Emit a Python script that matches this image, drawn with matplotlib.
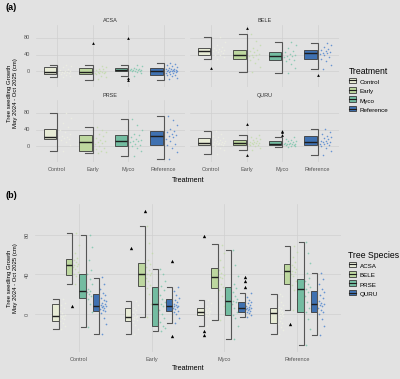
import matplotlib
matplotlib.use("Agg")
import matplotlib.pyplot as plt
import numpy as np
from matplotlib.legend_handler import HandlerBase
from matplotlib.patches import Rectangle, Patch
from matplotlib.lines import Line2D

plt.rcParams["font.family"] = ["Liberation Sans", "DejaVu Sans"]

treatments = ["Control", "Early", "Myco", "Reference"]
species = ["ACSA", "BELE", "PRSE", "QURU"]
colours = ["#e7ebd5", "#bdd79f", "#73bca1", "#3f71b1"]
point_colours = ["#eef0e2", "#c2dca8", "#78c6aa", "#4a82cf"]

# box statistics, one value per treatment (Control, Early, Myco, Reference)
q1 = {
    "ACSA": [-7, -7, -1, -9.5],
    "BELE": [39, 28, 26, 30],
    "PRSE": [16, -12, -1, 2.4],
    "QURU": [3, 3, 2.4, 2.4],
}
med = {
    "ACSA": [-2, -3, 2.3, 0.7],
    "BELE": [49.6, 40, 37, 43.5],
    "PRSE": [23, 10, 13, 25],
    "QURU": [8, 8, 5.7, 9.8],
}
q3 = {
    "ACSA": [9.8, 6.4, 6.4, 6.4],
    "BELE": [56, 52, 47, 51],
    "PRSE": [41, 27, 27, 35.4],
    "QURU": [20, 15, 12, 23.6],
}
whisk_lo = {
    "ACSA": [-15, -20.6, -12, -20.6],
    "BELE": [30, -3, -6, 4],
    "PRSE": [-13, -17, -25, -31],
    "QURU": [-20, -9, -2.7, -21],
}
whisk_hi = {
    "ACSA": [15, 13.5, 14, 20],
    "BELE": [81.7, 89, 70.5, 69],
    "PRSE": [80, 46, 65, 73],
    "QURU": [36.8, 27, 21, 42],
}

outliers = {
    ("ACSA", "Early"): [67],
    ("ACSA", "Myco"): [79, -17, -21],
    ("BELE", "Control"): [8],
    ("BELE", "Early"): [104],
    ("BELE", "Reference"): [-10],
    ("QURU", "Early"): [54, -22],
    ("QURU", "Myco"): [37, 33, 27],
}

# individual seedlings (approximate, read off the jittered points)
points = {
    ("ACSA", "Control"): [-15, -12, -9, -7, -5, -4, -3, -2, -2, -1, 1, 3, 6, 9, 11, 15],
    ("ACSA", "Early"): [-20, -15, -11, -8, -6, -5, -4, -3, -3, -2, 0, 2, 4, 6, 9, 13],
    ("ACSA", "Myco"): [-12, -6, -2, -1, 0, 1, 2, 2, 3, 3, 4, 5, 6, 8, 11, 14],
    ("ACSA", "Reference"): [-20, -16, -13, -10, -9, -7, -5, -4, -3, -2, -1, 0, 0, 1, 1, 2,
                            3, 3, 4, 5, 6, 7, 9, 12, 15, 18, 20],
    ("BELE", "Control"): [30, 35, 38, 40, 43, 46, 48, 49, 50, 51, 53, 55, 57, 62, 70, 82],
    ("BELE", "Early"): [-3, 10, 20, 26, 29, 33, 36, 39, 40, 42, 45, 48, 51, 55, 62, 72, 89],
    ("BELE", "Myco"): [-6, 8, 18, 24, 27, 30, 34, 36, 37, 39, 42, 45, 48, 55, 62, 70],
    ("BELE", "Reference"): [4, 15, 24, 29, 33, 38, 41, 43, 44, 46, 48, 50, 53, 58, 63, 69],
    ("PRSE", "Control"): [-13, 2, 10, 15, 18, 20, 22, 23, 25, 30, 35, 40, 45, 55, 68, 80],
    ("PRSE", "Early"): [-17, -14, -12, -8, -4, 0, 4, 8, 10, 12, 15, 19, 24, 28, 33, 40, 46],
    ("PRSE", "Myco"): [-25, -12, -4, -1, 2, 6, 10, 12, 13, 15, 18, 22, 26, 30, 38, 50, 65],
    ("PRSE", "Reference"): [-31, -15, -5, 2, 6, 12, 18, 22, 25, 27, 30, 33, 36, 42, 52, 62, 73],
    ("QURU", "Control"): [-20, -10, -4, 1, 3, 4, 5, 6, 7, 8, 8, 9, 10, 11, 13, 14, 16, 19,
                          21, 25, 30, 37],
    ("QURU", "Early"): [-9, -4, 0, 2, 3, 5, 6, 7, 8, 8, 9, 10, 12, 14, 16, 19, 23, 27],
    ("QURU", "Myco"): [-3, -1, 1, 2, 3, 4, 5, 5, 6, 6, 7, 8, 9, 11, 12, 14, 17, 21],
    ("QURU", "Reference"): [-21, -12, -5, 0, 2, 4, 6, 8, 9, 10, 11, 13, 16, 19, 22, 25,
                            30, 35, 42],
}

BG = "#e2e2e2"
GRID = "#d0d0d0"
YLIM = (-38, 111)
W, H = 400.0, 379.0


def px_axes(fig, x0, x1, y0, y1):
    # place an axes from pixel coordinates (origin top left)
    return fig.add_axes([x0 / W, 1 - y1 / H, (x1 - x0) / W, (y1 - y0) / H])


def draw_group(ax, x, sp, ti, colour, pcolour, box_w, box_gap, tick_w, pt_lo, pt_hi, ms, pms):
    j = treatments.index(ti)
    stats = {
        "med": med[sp][j], "q1": q1[sp][j], "q3": q3[sp][j],
        "whislo": q1[sp][j], "whishi": q3[sp][j], "fliers": [],
    }
    ax.bxp([stats], positions=[x - box_gap - box_w / 2], widths=box_w,
           patch_artist=True, showfliers=False, showcaps=False,
           boxprops=dict(facecolor=colour, edgecolor="#3a3a3a", linewidth=0.6),
           medianprops=dict(color="#1e1e1e", linewidth=1.0),
           whiskerprops=dict(linewidth=0), manage_ticks=False, zorder=3)
    lo, hi = whisk_lo[sp][j], whisk_hi[sp][j]
    ax.plot([x - tick_w, x, x, x - tick_w], [hi, hi, lo, lo],
            color="#555555", lw=0.8, zorder=3, solid_joinstyle="miter")
    vals = np.array(points[(sp, ti)])
    frac = (np.arange(len(vals)) * 0.618034 + 0.31) % 1.0
    ax.scatter(x + pt_lo + frac * (pt_hi - pt_lo), vals, s=pms, color=pcolour,
               alpha=0.8, linewidths=0, zorder=2)
    out = outliers.get((sp, ti), [])
    if out:
        ax.plot([x] * len(out), out, "^", color="black", ms=ms, mew=0, zorder=4)


def style_axes(ax, show_x, show_y, rot=0):
    ax.set_facecolor(BG)
    for s in ax.spines.values():
        s.set_visible(False)
    ax.set_xlim(0.4, 4.6)
    ax.set_ylim(*YLIM)
    ax.set_xticks(range(1, 5))
    ax.set_yticks([0, 40, 80])
    ax.grid(True, color=GRID, lw=0.5, zorder=0)
    ax.set_axisbelow(True)
    ax.tick_params(length=0, labelsize=4, labelcolor="#555555", pad=4)
    if show_x:
        ax.set_xticklabels(treatments)
    else:
        ax.set_xticklabels([])
    if show_y:
        ax.set_yticklabels(["0", "40", "80"], rotation=rot, va="center")
    else:
        ax.set_yticklabels([])


class BoxKey(HandlerBase):
    def create_artists(self, legend, orig, xd, yd, w, h, fontsize, trans):
        r = Rectangle((xd, yd), w, h, facecolor=orig.get_facecolor(),
                      edgecolor="#3a3a3a", lw=0.6, transform=trans)
        m = Line2D([xd, xd + w], [yd + h / 2] * 2, color="#1e1e1e", lw=0.8, transform=trans)
        return [r, m]


fig = plt.figure(figsize=(4.0, 3.79), dpi=100, facecolor=BG)

# ---- panel (a): one facet per species, coloured by treatment
facet_px = {
    "ACSA": (35.7, 185.0, 25.2, 86.7),
    "BELE": (189.7, 339.0, 25.2, 86.7),
    "PRSE": (35.7, 185.0, 100.2, 161.7),
    "QURU": (189.7, 339.0, 100.2, 161.7),
}
for sp in species:
    ax = px_axes(fig, *facet_px[sp])
    style_axes(ax, show_x=sp in ("PRSE", "QURU"), show_y=sp in ("ACSA", "PRSE"))
    ax.set_title(sp, fontsize=4, color="#333333", pad=2.5)
    for i, ti in enumerate(treatments):
        draw_group(ax, i + 1, sp, ti, colours[i], point_colours[i],
                   box_w=0.36, box_gap=0.02, tick_w=0.2, pt_lo=0.05, pt_hi=0.4,
                   ms=2.0, pms=1.3)

# ---- panel (b): species dodged within treatment
axb = px_axes(fig, 35.4, 340.6, 204.4, 351.5)
style_axes(axb, show_x=True, show_y=True, rot=90)
dodge = 0.75 / 4
for i, ti in enumerate(treatments):
    for k, sp in enumerate(species):
        xc = i + 1 + (k - 1.5) * dodge
        draw_group(axb, xc, sp, ti, colours[k], point_colours[k],
                   box_w=0.09, box_gap=0.0, tick_w=0.07, pt_lo=0.01, pt_hi=0.095,
                   ms=2.4, pms=1.5)

# ---- texts
fig.text(5 / W, 1 - 8 / H, "(a)", fontsize=6.5, fontweight="bold", va="center")
fig.text(5 / W, 1 - 195 / H, "(b)", fontsize=6.5, fontweight="bold", va="center")
ylab = "Tree seedling Growth\nMay 2024 - Oct 2025 (cm)"
fig.text(12.5 / W, 1 - 93 / H, ylab, rotation=90, ha="center", va="center",
         fontsize=4.3, linespacing=1.1)
fig.text(12.5 / W, 1 - 278 / H, ylab, rotation=90, ha="center", va="center",
         fontsize=4.3, linespacing=1.1)
fig.text(188 / W, 1 - 180 / H, "Treatment", ha="center", va="center", fontsize=5.2)
fig.text(188 / W, 1 - 369 / H, "Treatment", ha="center", va="center", fontsize=5.2)

# ---- legends
for title, names, top in (("Treatment", treatments, 64), ("Tree Species", species, 248)):
    handles = [Patch(facecolor=c, label=n) for c, n in zip(colours, names)]
    leg = fig.legend(handles=handles, title=title, loc="upper left",
                     bbox_to_anchor=(346 / W, 1 - top / H), frameon=False,
                     fontsize=4.5, title_fontsize=6.2, alignment="left",
                     handlelength=1.2, handleheight=1.0, handletextpad=0.6,
                     labelspacing=0.55, borderaxespad=0,
                     handler_map={Patch: BoxKey()})

fig.savefig("out.png", dpi=100, facecolor=BG)
